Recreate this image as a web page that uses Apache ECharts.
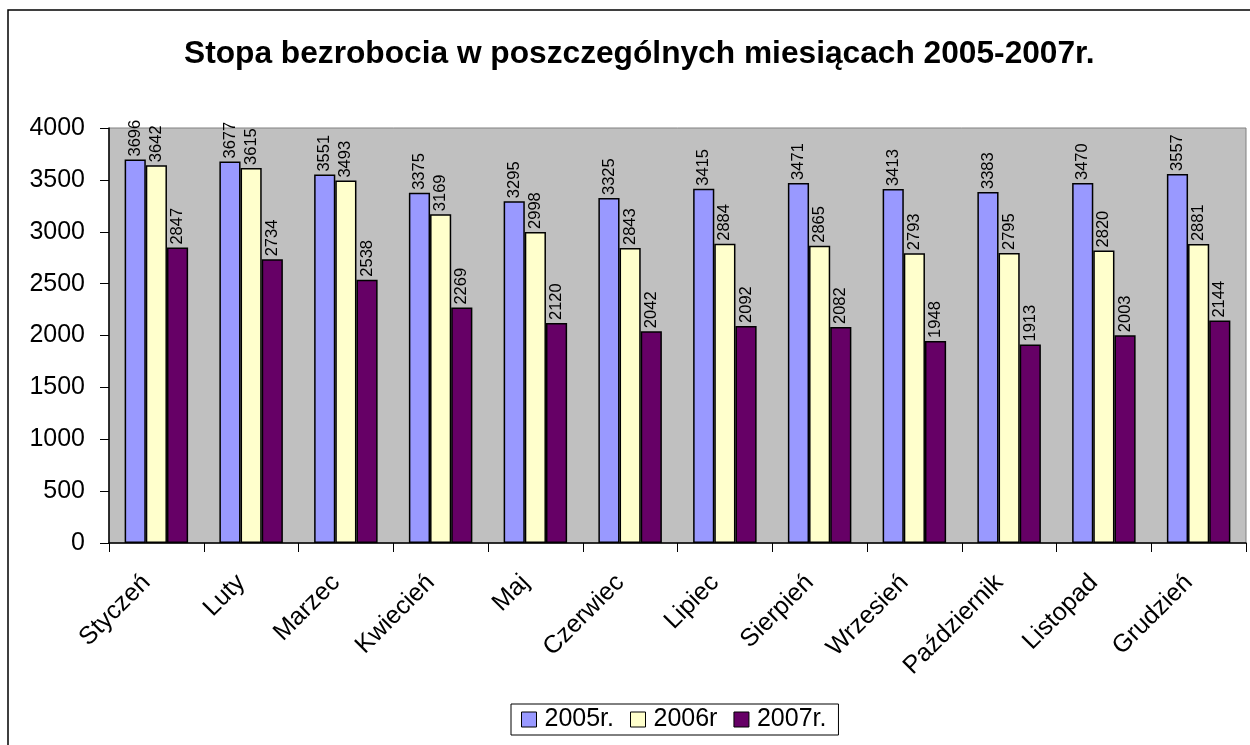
<!DOCTYPE html>
<html lang="pl">
<head>
  <meta charset="UTF-8">
  <title>Stopa bezrobocia 2005-2007</title>
  <script src="https://cdn.jsdelivr.net/npm/echarts@6/dist/echarts.min.js"></script>
  <style>
    html, body { margin: 0; padding: 0; background: #fff; }
    #main { width: 1250px; height: 745px; }
  </style>
</head>
<body>
  <div id="main"></div>
  <script>
    // miesiące i dane
    const miesiace = ['Styczeń', 'Luty', 'Marzec', 'Kwiecień', 'Maj', 'Czerwiec',
      'Lipiec', 'Sierpień', 'Wrzesień', 'Październik', 'Listopad', 'Grudzień'];
    const dane2005 = [3696, 3677, 3551, 3375, 3295, 3325, 3415, 3471, 3413, 3383, 3470, 3557];
    const dane2006 = [3642, 3615, 3493, 3169, 2998, 2843, 2884, 2865, 2793, 2795, 2820, 2881];
    const dane2007 = [2847, 2734, 2538, 2269, 2120, 2042, 2092, 2082, 1948, 1913, 2003, 2144];
    const nazwy = ['2005r.', '2006r', '2007r.'];
    const kolory = ['#9999FF', '#FFFFCC', '#660066'];

    const font = 'Liberation Sans, Arial, sans-serif';

    function seria(i, dane) {
      return {
        name: nazwy[i],
        type: 'bar',
        data: dane,
        barGap: '0%',
        barCategoryGap: '33%',
        itemStyle: { color: kolory[i], borderColor: '#000', borderWidth: 1.5 },
        label: {
          show: true,
          position: 'top',
          rotate: 90,
          align: 'left',
          verticalAlign: 'middle',
          distance: 3,
          color: '#000',
          fontFamily: font,
          fontSize: 16.5
        }
      };
    }

    var myChart = echarts.init(document.getElementById('main'));
    myChart.setOption({
      animation: false,
      title: {
        text: 'Stopa bezrobocia w poszczególnych miesiącach 2005-2007r.',
        left: 179,
        top: 33,
        textStyle: { fontFamily: font, fontSize: 31.7, fontWeight: 'bold', color: '#000' }
      },
      graphic: [{
        type: 'rect',
        shape: { x: 8, y: 10, width: 1260, height: 760 },
        style: { fill: 'none', stroke: '#000', lineWidth: 1.5 },
        silent: true,
        z: -10
      }],
      legend: {
        bottom: 10,
        left: 511,
        icon: 'rect',
        itemWidth: 15,
        itemHeight: 15,
        itemGap: 16,
        padding: [3, 12, 3, 10],
        borderColor: '#000',
        borderWidth: 1,
        itemStyle: { borderColor: '#000', borderWidth: 1 },
        textStyle: { fontFamily: font, fontSize: 25, color: '#000', padding: [0, 0, 0, 3] },
        data: nazwy
      },
      grid: {
        left: 109,
        right: 4,
        top: 128,
        bottom: 202,
        show: true,
        backgroundColor: '#C0C0C0',
        borderColor: '#808080',
        borderWidth: 1
      },
      xAxis: {
        type: 'category',
        data: miesiace,
        axisLine: { lineStyle: { color: '#000', width: 1.5 } },
        axisTick: { show: true, length: 9, lineStyle: { color: '#000' } },
        axisLabel: {
          rotate: 45,
          margin: 26,
          padding: [0, 14, 0, 0],
          color: '#000',
          fontFamily: font,
          fontSize: 25
        }
      },
      yAxis: {
        type: 'value',
        min: 0,
        max: 4000,
        interval: 500,
        splitLine: { show: false },
        axisLine: { show: true, lineStyle: { color: '#000', width: 1.5 } },
        axisTick: { show: true, length: 9, lineStyle: { color: '#000' } },
        axisLabel: {
          color: '#000', fontFamily: font, fontSize: 25, margin: 24,
          formatter: function (v) { return String(v); }
        }
      },
      series: [seria(0, dane2005), seria(1, dane2006), seria(2, dane2007)]
    });
  </script>
</body>
</html>
